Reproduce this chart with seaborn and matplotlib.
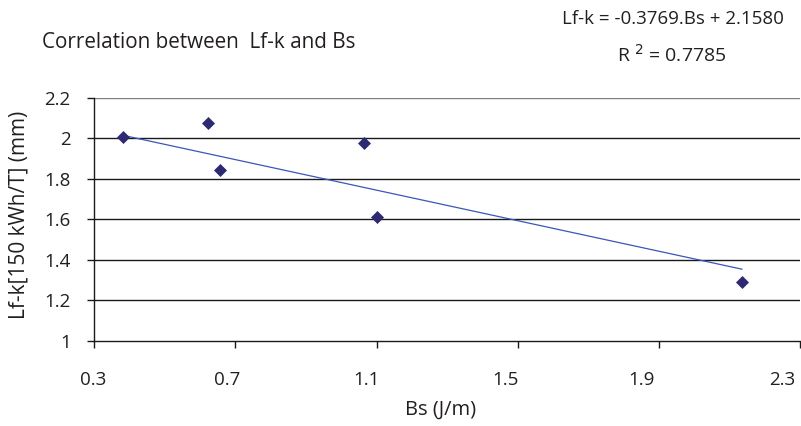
import matplotlib
matplotlib.use("Agg")
import matplotlib.pyplot as plt
from matplotlib.transforms import ScaledTranslation
import numpy as np
import pandas as pd
import seaborn as sns

# Measured samples: Bs (J/m) against Lf-k [150 kWh/T] (mm)
bs_values = [0.382, 0.621, 0.657, 1.065, 1.101, 2.136]
lfk_values = [2.004, 2.074, 1.843, 1.978, 1.612, 1.291]

# Linear trend reported for the series
trend_slope = -0.3769
trend_intercept = 2.1580
r_squared = 0.7785

x_ticks = [0.3, 0.7, 1.1, 1.5, 1.9, 2.3]
x_tick_labels = ["0.3", "0.7", "1.1", "1.5", "1.9", "2.3"]
y_ticks = [1.0, 1.2, 1.4, 1.6, 1.8, 2.0, 2.2]
y_tick_labels = ["1", "1.2", "1.4", "1.6", "1.8", "2", "2.2"]

sns.set_theme(style="white")
plt.rcParams["font.family"] = ["Open Sans", "DejaVu Sans"]

df = pd.DataFrame({"Bs": bs_values, "Lfk": lfk_values})

fig = plt.figure(figsize=(8.01, 4.26), dpi=100)
ax = fig.add_axes([94.3 / 801, 85.3 / 426, (800 - 94.3) / 801, 243 / 426])

text_color = "#231f20"
axis_color = "#1a1a1a"

# Trend line across the range of the data
x_line = np.array([min(bs_values), max(bs_values)])
y_line = trend_slope * x_line + trend_intercept
sns.lineplot(x=x_line, y=y_line, ax=ax, color="#3b56b8", linewidth=0.9, zorder=2)

sns.scatterplot(data=df, x="Bs", y="Lfk", ax=ax, marker="D", s=44,
                color="#2e2a72", linewidth=0, zorder=3)

ax.set_xlim(0.3, 2.3)
ax.set_ylim(1.0, 2.2)
ax.set_xticks(x_ticks)
ax.set_xticklabels(x_tick_labels)
ax.set_yticks(y_ticks)
ax.set_yticklabels(y_tick_labels)

for yv in y_ticks[1:-1]:
    ax.axhline(yv, color=axis_color, linewidth=1.0, zorder=1)
ax.axhline(2.2, color="#808080", linewidth=1.0, zorder=1)

for side in ["top", "right"]:
    ax.spines[side].set_visible(False)
for side in ["left", "bottom"]:
    ax.spines[side].set_color(axis_color)
    ax.spines[side].set_linewidth(1.0)

ax.tick_params(axis="both", which="major", direction="out", length=5, width=1.0,
               color=axis_color, labelsize=13.5, labelcolor=text_color)
ax.tick_params(axis="x", pad=17, bottom=True)
ax.tick_params(axis="y", pad=12, left=True)

# x tick labels sit progressively left of their ticks
x_label_shift_px = [-1, -8, -10, -12, -17, -18]
for lbl, dx in zip(ax.get_xticklabels(), x_label_shift_px):
    lbl.set_transform(lbl.get_transform() + ScaledTranslation(dx / 100, 0, fig.dpi_scale_trans))

ax.set_xlabel("Bs (J/m)", fontsize=14.5, color=text_color)
ax.set_ylabel("Lf-k[150 kWh/T] (mm)", fontsize=15, color=text_color)
ax.xaxis.set_label_coords((441 - 94.3) / (800 - 94.3), -(410 - 340.7) / 243)
ax.yaxis.set_label_coords(-(94.3 - 19) / (800 - 94.3), (340.7 - 215) / 243)
ax.xaxis.label.set_va("center")
ax.yaxis.label.set_va("center")

fig.text(42 / 801, 1 - 42 / 426, "Correlation between  Lf-k and Bs", fontsize=14.9,
         color=text_color, ha="left", va="center")
fig.text(673 / 801, 1 - 19 / 426, "Lf-k = -0.3769.Bs + 2.1580", fontsize=13.5,
         color=text_color, ha="center", va="center")
fig.text(672 / 801, 1 - 55 / 426, r"R $^{2}$ = 0.7785", fontsize=14,
         color=text_color, ha="center", va="center")

fig.savefig("out.png", dpi=100, facecolor="white")
